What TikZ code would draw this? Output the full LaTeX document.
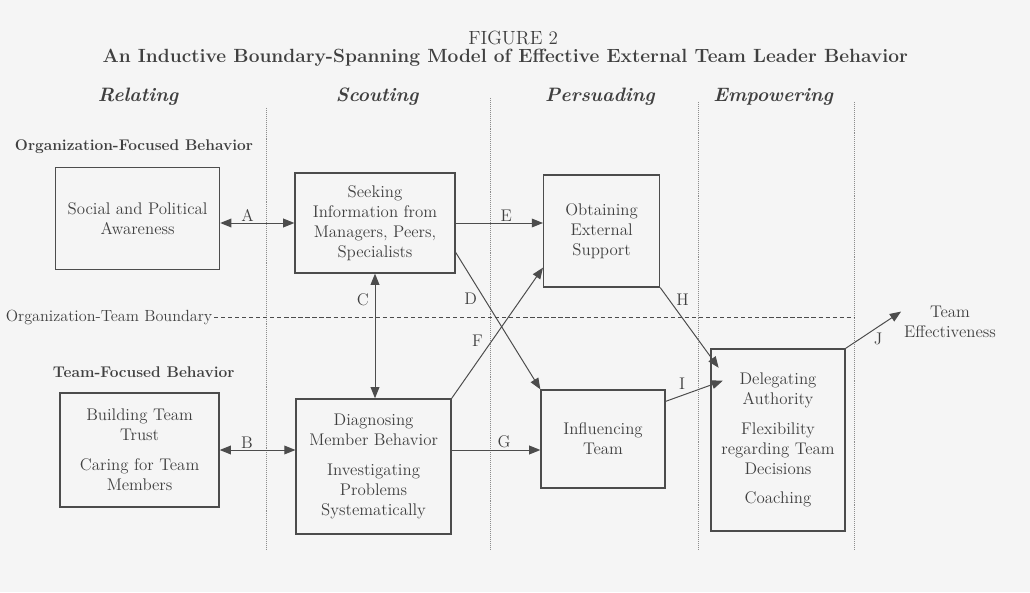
\documentclass[tikz,border=0pt]{standalone}
\usepackage{tikz}
\usetikzlibrary{arrows.meta}

\begin{document}
\begin{tikzpicture}[
    font=\fontsize{12}{14.2}\selectfont,
    box/.style={rectangle, draw=black!70, line width=0.9pt, align=center, text=black!75, inner sep=2pt},
    head/.style={font=\fontsize{13.8}{16}\selectfont\bfseries\itshape, text=black!75},
    side/.style={font=\fontsize{11}{13}\selectfont\bfseries, text=black!75, anchor=west},
    lbl/.style={inner sep=1pt, text=black!75},
    link/.style={draw=black!70, line width=0.7pt, -{Triangle[length=2.8mm, width=2.2mm]}},
    both/.style={link, {Triangle[length=2.8mm, width=2.2mm]}-{Triangle[length=2.8mm, width=2.2mm]}},
    divider/.style={draw=black!45, line width=0.4pt, densely dotted},
]
    \fill[black!4] (0,0) rectangle (25.75,14.8);
    \useasboundingbox (0,0) rectangle (25.75,14.8);

    \node[text=black!75, font=\fontsize{13.6}{16}\selectfont] (fig) at (12.83, 13.85) {FIGURE 2};
    \node[text=black!75, font=\fontsize{13.6}{16}\selectfont\bfseries] (title) at (12.63, 13.35)
        {An Inductive Boundary-Spanning Model of Effective External Team Leader Behavior};

    \node[head] (relating) at (3.45, 12.375) {Relating};
    \node[head] (scouting) at (9.43, 12.375) {Scouting};
    \node[head] (persuading) at (15.0, 12.375) {Persuading};
    \node[head] (empowering) at (19.33, 12.375) {Empowering};

    \foreach \x/\t in {6.65/12.1, 12.25/12.35, 17.45/12.25, 21.35/12.25}
        \draw[divider] (\x, \t) -- (\x, 1.05);

    \node[side] (orgside) at (0.25, 11.125) {Organization-Focused Behavior};
    \node[side] (teamside) at (1.2, 5.5) {Team-Focused Behavior};

    \node[text=black!75, anchor=east, inner sep=1pt, font=\fontsize{11.5}{14}\selectfont] (boundary) at (5.35, 6.875) {Organization-Team Boundary};
    \coordinate (boundend) at (21.35, 6.875);
    \draw[black!70, line width=0.6pt, dash pattern=on 3pt off 2pt] (boundary.east) -- (boundend);

    \node[box, minimum width=4.1cm, minimum height=2.55cm] (social) at (3.44, 9.33)
        {Social and Political\\Awareness};
    \node[box, minimum width=4.0cm, minimum height=2.5cm] (seeking) at (9.375, 9.225)
        {Seeking\\Information from\\Managers, Peers,\\Specialists};
    \node[box, minimum width=2.9cm, minimum height=2.8cm] (obtaining) at (15.04, 9.025)
        {Obtaining\\External\\Support};
    \node[box, minimum width=3.975cm, minimum height=2.85cm] (building) at (3.49, 3.55)
        {Building Team\\Trust\\[7pt]Caring for Team\\Members};
    \node[box, minimum width=3.875cm, minimum height=3.375cm] (diagnosing) at (9.34, 3.14)
        {Diagnosing\\Member Behavior\\[7pt]Investigating\\Problems\\Systematically};
    \node[box, minimum width=3.1cm, minimum height=2.45cm] (influencing) at (15.075, 3.825)
        {Influencing\\Team};
    \node[box, minimum width=3.35cm, minimum height=4.55cm] (delegating) at (19.45, 3.8)
        {Delegating\\Authority\\[7pt]Flexibility\\regarding Team\\Decisions\\[7pt]Coaching};
    \node[text=black!75, align=center, inner sep=2pt] (effect) at (23.75, 6.75) {Team\\Effectiveness};

    \draw[both] (seeking.west -| social.east) -- node[lbl, pos=0.37, above] {A} (seeking.west);
    \draw[both] (building.east) -- node[lbl, pos=0.36, above] {B} (building.east -| diagnosing.west);
    \draw[both] (seeking.south) -- node[lbl, pos=0.21, left=3pt] {C} (seeking.south |- diagnosing.north);
    \draw[link] (seeking.-20) -- node[lbl, pos=0.34, left=4pt] {D} (influencing.north west);
    \draw[link] (seeking.east) -- node[lbl, pos=0.58, above] {E} (seeking.east -| obtaining.west);
    \draw[link] (diagnosing.north east) -- node[lbl, pos=0.44, left=5pt] {F} (obtaining.212);
    \draw[link] (building.east -| diagnosing.east) -- node[lbl, pos=0.59, above] {G} (building.east -| influencing.west);
    \draw[link, shorten >=-0.35cm] (obtaining.south east) -- node[lbl, pos=0.17, right=4pt] {H} (delegating.129);
    \draw[link, shorten >=-0.33cm] (influencing.31) -- node[lbl, pos=0.37, above=3pt] {I} (delegating.141);
    \draw[link] (delegating.north east) -- node[lbl, pos=0.585, below=3pt] {J} (effect.168);
\end{tikzpicture}
\end{document}
